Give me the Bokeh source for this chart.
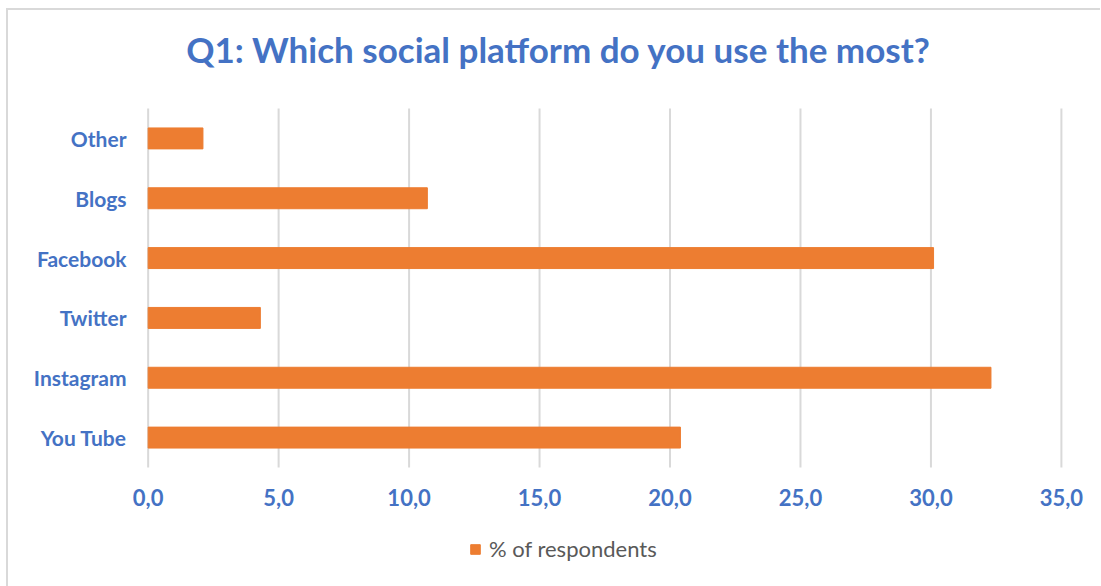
from bokeh.plotting import figure
from bokeh.models import (Range1d, FixedTicker, Legend, LegendItem, ColumnDataSource, Label)
from bokeh.embed import file_html
from bokeh.resources import INLINE

# ---- data ----
categories = ["You Tube", "Instagram", "Twitter", "Facebook", "Blogs", "Other"]
values = [20.4, 32.3, 4.3, 30.1, 10.7, 2.1]
x_ticks = [0, 5, 10, 15, 20, 25, 30, 35]
x_tick_labels = ["0,0", "5,0", "10,0", "15,0", "20,0", "25,0", "30,0", "35,0"]
series_name = "% of respondents"
title_text = "Q1: Which social platform do you use the most?"

BLUE = "#4472C4"
ORANGE = "#ED7D31"
GRID = "#D9D9D9"
FONT = "Lato"

n = len(categories)
pos = list(range(n))
bar_src = ColumnDataSource(dict(y=pos, val=values))
tick_src = ColumnDataSource(dict(x=x_ticks, lab=x_tick_labels, y=[-0.5] * len(x_ticks)))
grid_src = ColumnDataSource(dict(x=x_ticks, y0=[-0.5] * len(x_ticks), y1=[n - 0.5] * len(x_ticks)))

# pixel layout: 59.83 px per category row; frame spans the full figure height
ROW = 359 / n
PX = 913 / 35          # px per x unit
X0, X1 = -0.6, 36.0    # a little room so edge tick labels are not clipped
p = figure(
    width=1092, height=576,
    frame_width=round((X1 - X0) * PX), frame_height=576,
    x_range=Range1d(X0, X1),
    y_range=Range1d(-0.5 - 119 / ROW, n - 0.5 + 98 / ROW),
    x_axis_location=None,
    output_backend="svg", toolbar_location=None,
    min_border_left=124, min_border_top=0, min_border_right=13, min_border_bottom=0,
    margin=(8, 0, 0, 6),
)
p.styles = {"border-left": "2px solid #D9D9D9", "border-top": "2px solid #D9D9D9"}
p.outline_line_color = None
p.background_fill_color = "white"
p.border_fill_color = "white"
p.grid.visible = False

# vertical gridlines at the x ticks
p.segment(x0="x", x1="x", y0="y0", y1="y1", source=grid_src,
          line_color=GRID, line_width=2)

r = p.hbar(y="y", right="val", left=0, height=0.35, source=bar_src,
           fill_color=ORANGE, line_color=ORANGE)

# x tick labels
p.text(x="x", y="y", text="lab", source=tick_src, y_offset=30,
       text_align="center", text_baseline="middle",
       text_font={"value": FONT}, text_font_style="bold", text_font_size="22px",
       text_color=BLUE)

# y axis with category labels
p.yaxis.ticker = FixedTicker(ticks=pos)
p.yaxis.major_label_overrides = {i: c for i, c in zip(pos, categories)}
p.yaxis.axis_line_color = None
p.yaxis.major_tick_line_color = None
p.yaxis.minor_tick_line_color = None
p.yaxis.major_label_text_color = BLUE
p.yaxis.major_label_text_font = FONT
p.yaxis.major_label_text_font_style = "bold"
p.yaxis.major_label_text_font_size = "21px"
p.yaxis.major_label_standoff = 0

# title
p.add_layout(Label(x=426, y=538, x_units="screen", y_units="screen", text=title_text,
                   text_align="center", text_baseline="middle",
                   text_font=FONT, text_font_style="bold", text_font_size="35px",
                   text_color=BLUE))

legend = Legend(items=[LegendItem(label=series_name, renderers=[r])],
                location=(337, 24), orientation="horizontal",
                border_line_color=None, background_fill_alpha=0,
                padding=0, margin=0, glyph_width=12, glyph_height=12,
                label_standoff=8, label_text_font=FONT, label_text_font_size="22px",
                label_text_color="#595959")
p.add_layout(legend)

open("out.html", "w").write(file_html(p, INLINE))
